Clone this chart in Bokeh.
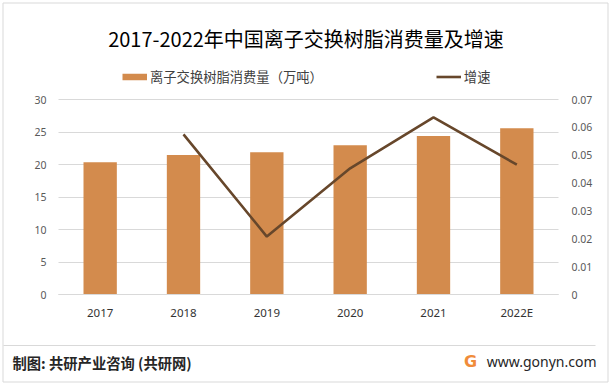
from bokeh.plotting import figure
from bokeh.models import (ColumnDataSource, Range1d, LinearAxis, FixedTicker,
                          CustomJSTickFormatter, Label, Legend, LegendItem, Grid)
from bokeh.embed import file_html
from bokeh.resources import INLINE

# ---- data ----
years = ["2017", "2018", "2019", "2020", "2021", "2022E"]
consumption = [20.35, 21.48, 21.9, 22.97, 24.4, 25.58]          # 万吨
growth_years = ["2018", "2019", "2020", "2021", "2022E"]
growth = [0.0575, 0.0208, 0.0453, 0.0636, 0.0466]
left_ticks = [0, 5, 10, 15, 20, 25, 30]
right_ticks = [0, 0.01, 0.02, 0.03, 0.04, 0.05, 0.06, 0.07]

title_text = "2017-2022年中国离子交换树脂消费量及增速"
bar_label = "离子交换树脂消费量（万吨）"
line_label = "增速"
source_text = "制图: 共研产业咨询 (共研网)"
site_text = "www.gonyn.com"

BAR_COLOR = "#d38b4d"
LINE_COLOR = "#67472b"
GRID_COLOR = "#d9d9d9"
CJK = "Noto Sans CJK SC"
W, H = 611, 385

# category slots on a numeric axis (slot i centred at i + 0.5)
x_pos = [i + 0.5 for i in range(len(years))]
g_pos = [x_pos[years.index(y)] for y in growth_years]

# plot area: x 58..558 px, y 99..294 px  (frame = whole canvas)
PX = 500 / len(years)          # px per category
PY = 195 / 30                  # px per unit (left axis)
PR = 195 / 0.07                # px per unit (right axis)


def cx(px):   # canvas x pixel -> data x (for decorations only)
    return (px - 58) / PX


def cy(py):   # canvas y pixel -> data y (for decorations only)
    return (294 - py) / PY


p = figure(width=W, height=H,
           x_range=Range1d(cx(0), cx(W)),
           y_range=Range1d(cy(H), cy(0)),
           min_border=0, x_axis_type=None, y_axis_type=None,
           output_backend="svg", toolbar_location=None, tools="")
p.extra_y_ranges = {"rate": Range1d(-(H - 294) / PR, 294 / PR)}
p.outline_line_color = None
p.background_fill_color = "white"
p.border_fill_color = "white"

# outer border and footer separator (decorations)
p.quad(left=[cx(2.5)], right=[cx(607.5)], top=[cy(2.5)], bottom=[cy(381.5)],
       fill_alpha=0, line_color=GRID_COLOR, line_width=1)
p.segment(x0=[cx(3)], x1=[cx(595)], y0=[cy(345)], y1=[cy(345)],
          line_color=GRID_COLOR, line_width=1)

# grid
lt = FixedTicker(ticks=left_ticks)
if "cross_bounds" in Grid.properties():
    grid = Grid(dimension=1, ticker=lt, grid_line_color=GRID_COLOR)
    grid.cross_bounds = (0, len(years))
    p.add_layout(grid)
else:
    p.segment(x0=0, x1=len(years), y0=left_ticks, y1=left_ticks,
              line_color=GRID_COLOR, line_width=1)

src = ColumnDataSource(dict(x=x_pos, value=consumption, year=years))
bars = p.vbar(x="x", top="value", width=0.4, source=src,
              fill_color=BAR_COLOR, line_color=None)
lsrc = ColumnDataSource(dict(x=g_pos, rate=growth, year=growth_years))
line = p.line(x="x", y="rate", source=lsrc, y_range_name="rate",
              line_color=LINE_COLOR, line_width=2.6)
# legend swatch for the bars (nothing drawn in the plot)
swatch = p.line(x=[float("nan")], y=[float("nan")], line_color=BAR_COLOR,
                line_width=6.5, line_cap="butt")

# axes
ya = LinearAxis(ticker=lt, fixed_location=0)
ya.axis_line_color = None
ya.major_tick_line_color = None
ya.minor_tick_line_color = None
ya.major_label_text_font = "Noto Sans"
ya.major_label_text_font_size = "10.5px"
ya.major_label_text_color = "#595959"
ya.major_label_standoff = 6
p.add_layout(ya, "left")

ra = LinearAxis(y_range_name="rate", ticker=FixedTicker(ticks=right_ticks),
                fixed_location=len(years),
                formatter=CustomJSTickFormatter(code="return tick == 0 ? '0' : tick.toFixed(2);"))
ra.axis_line_color = None
ra.major_tick_line_color = None
ra.minor_tick_line_color = None
ra.major_label_text_font = "Noto Sans"
ra.major_label_text_font_size = "10.5px"
ra.major_label_text_color = "#595959"
ra.major_label_standoff = 7
p.add_layout(ra, "right")

xa = LinearAxis(ticker=FixedTicker(ticks=x_pos), fixed_location=0,
                bounds=(0, len(years)),
                formatter=CustomJSTickFormatter(args=dict(labels=years), code="""
const i = Math.round(tick - 0.5);
return (i >= 0 && i < labels.length) ? labels[i] : '';"""))
xa.axis_line_color = GRID_COLOR
xa.major_tick_line_color = None
xa.minor_tick_line_color = None
xa.major_label_text_font = "Noto Sans"
xa.major_label_text_font_size = "11.5px"
xa.major_label_text_color = "#333333"
xa.major_label_standoff = 4
p.add_layout(xa, "below")

# legend
legend = Legend(items=[LegendItem(label=bar_label, renderers=[swatch]),
                       LegendItem(label=line_label, renderers=[line])],
                orientation="horizontal", location=(122, H - 86),
                glyph_width=25, glyph_height=19, label_height=19,
                label_standoff=3, spacing=113, padding=0, margin=0,
                border_line_color=None, background_fill_alpha=0,
                label_text_font=CJK, label_text_font_size="13.3px",
                label_text_color="#404040")
p.add_layout(legend, "center")

# title
p.add_layout(Label(x=305.5, y=H - 37.5, x_units="screen", y_units="screen",
                   text=title_text, text_font=CJK, text_font_size="20px",
                   text_color="#000000", text_align="center",
                   text_baseline="middle"))

# footer
p.add_layout(Label(x=12, y=H - 362, x_units="screen", y_units="screen",
                   text=source_text, text_font=CJK, text_font_size="14.3px",
                   text_font_style="bold", text_color="#262626",
                   text_align="left", text_baseline="middle"))
p.add_layout(Label(x=470, y=H - 361, x_units="screen", y_units="screen",
                   text="G", text_font="DejaVu Sans", text_font_size="16px",
                   text_font_style="bold", text_color="#f08c3a",
                   text_align="center", text_baseline="middle"))
p.add_layout(Label(x=596, y=H - 361, x_units="screen", y_units="screen",
                   text=site_text, text_font="Noto Sans", text_font_size="14px",
                   text_color="#262626", text_align="right",
                   text_baseline="middle"))

open("out.html", "w").write(file_html(p, INLINE))
